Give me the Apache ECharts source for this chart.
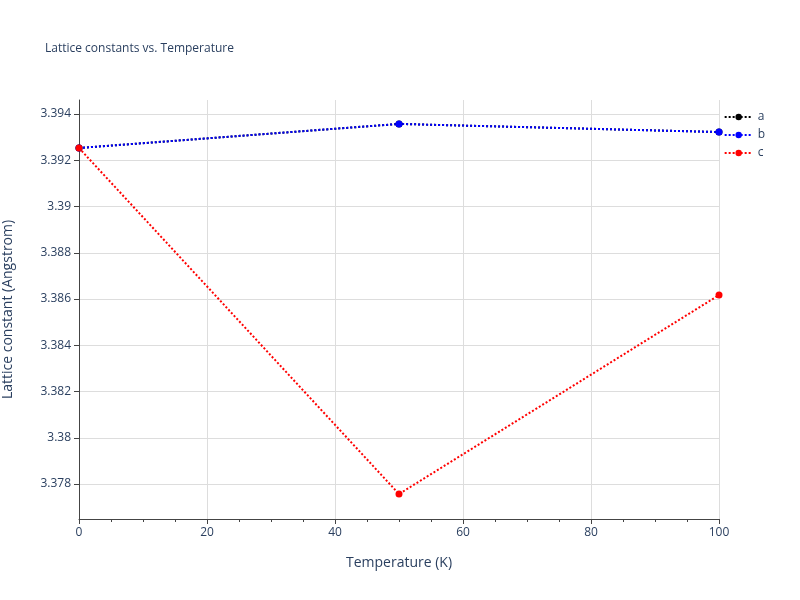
<!DOCTYPE html>
<html><head><meta charset="utf-8">
<script src="https://cdn.jsdelivr.net/npm/echarts@6/dist/echarts.min.js"></script>
<style>body{margin:0}#c{width:800px;height:600px}</style></head>
<body><div id="c"></div>
<script>
const temps = [0, 50, 100]
const aVals = [3.39253, 3.39357, 3.39322]
const bVals = [3.39253, 3.39357, 3.39322]
const cVals = [3.39253, 3.37757, 3.38617]
const yTicks = [3.378, 3.38, 3.382, 3.384, 3.386, 3.388, 3.39, 3.392, 3.394]

const chart = echarts.init(document.getElementById('c'))
const txt = '#2a3f5f'
const font = '"Open Sans", sans-serif'
const mk = (name, vals, color) => ({
  name, type: 'line', data: temps.map((t, i) => [t, vals[i]]),
  symbol: 'circle', symbolSize: 7, itemStyle: { color },
  lineStyle: { color, type: 'dotted', width: 2 }
})
chart.setOption({
  animation: false,
  textStyle: { fontFamily: font },
  title: { text: 'Lattice constants vs. Temperature', left: 40, top: 38,
    textStyle: { fontSize: 12, fontWeight: 'normal', color: txt, fontFamily: font } },
  legend: { orient: 'vertical', right: 30, top: 106, itemGap: 6, itemWidth: 28, itemHeight: 8,
    textStyle: { color: txt, fontSize: 12 } },
  grid: { left: 79, right: 81, top: 100, bottom: 81, outerBoundsMode: 'none' },
  xAxis: { type: 'value', min: 0, max: 100, interval: 20,
    name: 'Temperature (K)', nameLocation: 'middle', nameGap: 37,
    nameTextStyle: { color: txt, fontSize: 14 },
    axisLine: { lineStyle: { color: '#444' } },
    axisTick: { show: true, length: 5, lineStyle: { color: '#444' } },
    minorTick: { show: true, splitNumber: 4, length: 3 },
    axisLabel: { color: txt, fontSize: 12 },
    splitLine: { lineStyle: { color: '#ddd' } } },
  yAxis: { type: 'value', min: 3.37649, max: 3.394605,
    name: 'Lattice constant (Angstrom)', nameLocation: 'middle', nameGap: 64,
    nameTextStyle: { color: txt, fontSize: 14 },
    axisLine: { show: true, lineStyle: { color: '#444' } },
    axisTick: { show: true, length: 5, customValues: yTicks, lineStyle: { color: '#444' } },
    axisLabel: { color: txt, fontSize: 12, customValues: yTicks },
    splitLine: { lineStyle: { color: '#ddd' } } },
  series: [mk('a', aVals, '#000'), mk('b', bVals, '#0000ff'), mk('c', cVals, '#ff0000')]
})
</script></body></html>
